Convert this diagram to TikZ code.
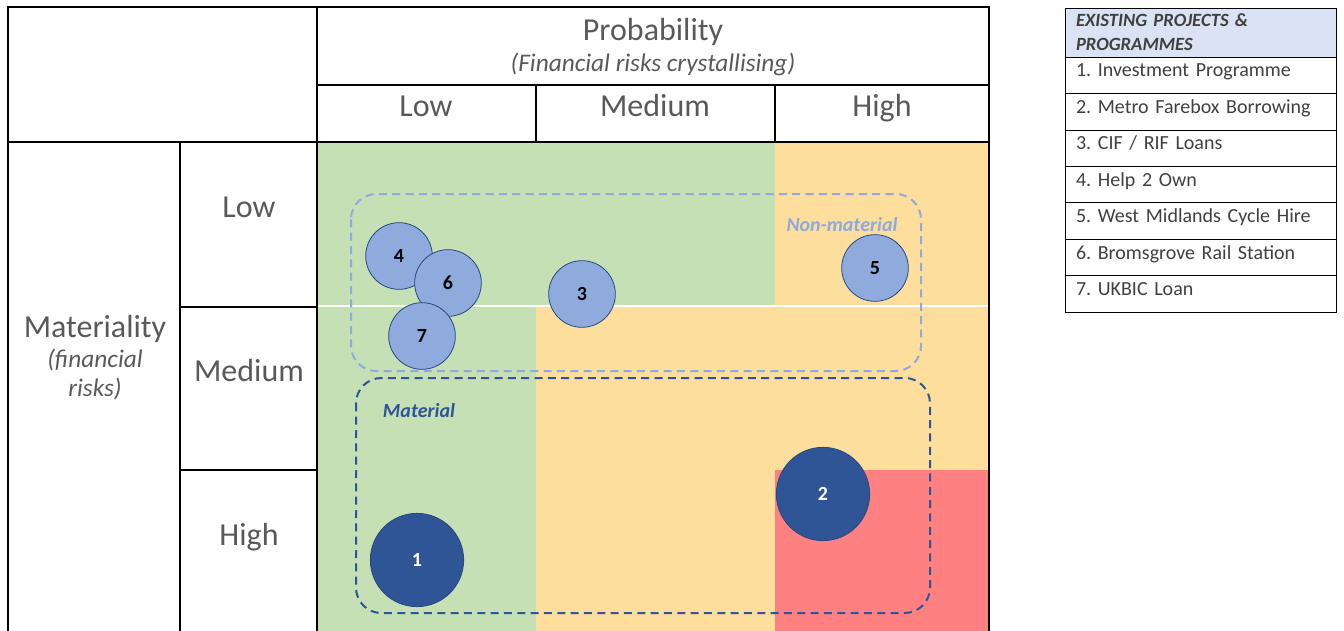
\documentclass[tikz,border=0pt]{standalone}
\usepackage{fontspec}
\setmainfont{Carlito}
\usetikzlibrary{positioning}
\frenchspacing
\definecolor{lowgreen}{HTML}{C5E0B4}
\definecolor{midamber}{HTML}{FEDE9D}
\definecolor{highred}{HTML}{FF8080}
\definecolor{lightblue}{HTML}{8FAADC}
\definecolor{darkblue}{HTML}{2F5597}
\definecolor{headgray}{HTML}{595959}
\definecolor{legtext}{HTML}{404040}
\definecolor{legfill}{HTML}{DAE3F3}

\begin{document}
\begin{tikzpicture}[
  x=0.75pt, y=-0.75pt,
  thickline/.style={line width=2pt},
  thinline/.style={line width=0.9pt},
  head/.style={anchor=base, text=headgray, font=\fontsize{24}{28}\selectfont},
  subhead/.style={anchor=base, text=headgray, font=\fontsize{19}{22}\selectfont\itshape},
  riskdot/.style={circle, draw=darkblue!85!black, line width=0.6pt, fill=lightblue, minimum size=50pt, inner sep=0pt, font=\fontsize{15}{17}\selectfont\bfseries},
  bigdot/.style={riskdot, fill=darkblue, minimum size=70pt, text=white},
  zone/.style={line width=1.5pt, rounded corners=19pt, dash pattern=on 6pt off 4pt},
  zonelabel/.style={font=\fontsize{15}{17}\selectfont\bfseries\itshape},
  leghead/.style={draw, fill=legfill, outer sep=0pt, inner xsep=8.25pt, inner ysep=3pt, text width=186.75pt, minimum height=36.75pt, align=left, text=legtext, font=\fontsize{14}{18}\selectfont\bfseries\itshape},
  legrow/.style={draw, outer sep=0pt, inner xsep=8.25pt, inner ysep=0pt, text width=186.75pt, text height=15pt, text depth=12.3pt, align=left, text=legtext, font=\fontsize{15}{18}\selectfont}
]
\useasboundingbox (0,0) rectangle (1344,631);

\fill[lowgreen] (317,142) rectangle (775,306);
\fill[midamber] (775,142) rectangle (989,306);
\fill[lowgreen] (317,306) rectangle (536,631);
\fill[midamber] (536,306) rectangle (989,470);
\fill[midamber] (536,470) rectangle (775,631);
\fill[highred] (775,470) rectangle (989,631);
\draw[white, line width=1pt] (317,306) -- (989,306);

\draw[thickline] (8,631) -- (8,7) -- (989,7) -- (989,631);
\draw[thickline] (8,142) -- (989,142);
\draw[thickline] (317,7) -- (317,631);
\draw[thinline] (317,85) -- (989,85);
\draw[thinline] (536,85) -- (536,142);
\draw[thinline] (775,85) -- (775,142);
\draw[thinline] (180,142) -- (180,631);
\draw[thinline] (180,307) -- (317,307);
\draw[thinline] (180,470) -- (317,470);

\node[head] (prob) at (653,41) {Probability};
\node[subhead] (probsub) at (653,72) {(Financial risks crystallising)};
\node[head] (plow) at (426,117) {Low};
\node[head] (pmed) at (655,117) {Medium};
\node[head] (phigh) at (882,117) {High};

\node[head] (mat) at (95,337) {Materiality};
\node[subhead] (matsub1) at (95,367) {(financial};
\node[subhead] (matsub2) at (95,396) {risks)};
\node[head] (mlow) at (249,217) {Low};
\node[head] (mmed) at (249,381) {Medium};
\node[head] (mhigh) at (249,545) {High};

\draw[zone, draw=lightblue] (351,194) rectangle (921,371);
\draw[zone, draw=darkblue] (356,378) rectangle (930,613);
\node[zonelabel, text=lightblue] (nonmat) at (842,225) {Non-material};
\node[zonelabel, text=darkblue] (matlbl) at (419,411) {Material};

\node[riskdot] (p4) at (399,256) {4};
\node[riskdot] (p6) at (448,283) {6};
\node[riskdot] (p7) at (422,336) {7};
\node[riskdot] (p3) at (582,294) {3};
\node[riskdot] (p5) at (875,268) {5};
\node[bigdot] (p1) at (417,560) {1};
\node[bigdot] (p2) at (823,494) {2};

\node[leghead, anchor=north west] (legtop) at (1065,8) {EXISTING PROJECTS \&\\PROGRAMMES};
\node[legrow, below=0pt of legtop] (leg1) {1. Investment Programme};
\node[legrow, below=0pt of leg1] (leg2) {2. Metro Farebox Borrowing};
\node[legrow, below=0pt of leg2] (leg3) {3. CIF / RIF Loans};
\node[legrow, below=0pt of leg3] (leg4) {4. Help 2 Own};
\node[legrow, below=0pt of leg4] (leg5) {5. West Midlands Cycle Hire};
\node[legrow, below=0pt of leg5] (leg6) {6. Bromsgrove Rail Station};
\node[legrow, below=0pt of leg6] (leg7) {7. UKBIC Loan};

\end{tikzpicture}
\end{document}
